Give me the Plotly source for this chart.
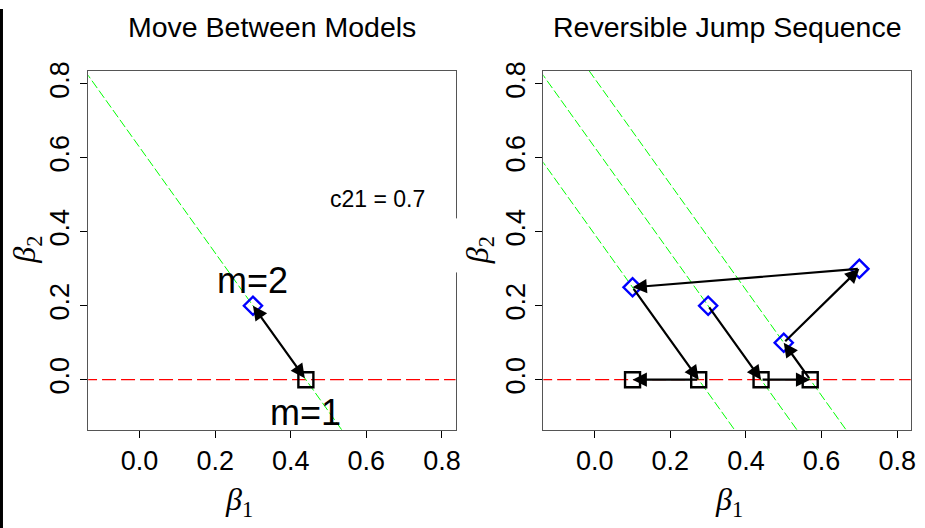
import plotly.graph_objects as go

W, H = 925, 528

# ---- data ----
c21 = 0.7
tick_vals = [0.0, 0.2, 0.4, 0.6, 0.8]
tick_text = ["0.0", "0.2", "0.4", "0.6", "0.8"]
axis_range = [-0.136, 0.836]

# left panel: one move between models
left_sq_x = [0.44]
left_sq_y = [0.0]
left_dm_x = [0.30]
left_dm_y = [0.20]
left_line_c = [0.44]

# right panel: reversible jump sequence
right_sq_x = [0.10, 0.275, 0.44, 0.57]
right_sq_y = [0.0, 0.0, 0.0, 0.0]
right_dm_x = [0.10, 0.30, 0.50, 0.70]
right_dm_y = [0.25, 0.20, 0.10, 0.30]
right_line_c = [0.275, 0.44, 0.57]
# arrows: (from_x, from_y, to_x, to_y)
right_arrows = [
    (0.10, 0.25, 0.275, 0.0),
    (0.275, 0.0, 0.10, 0.0),
    (0.30, 0.20, 0.44, 0.0),
    (0.44, 0.0, 0.57, 0.0),
    (0.57, 0.0, 0.50, 0.10),
    (0.50, 0.10, 0.70, 0.30),
    (0.70, 0.30, 0.10, 0.25),
]
left_arrows = [(0.44, 0.0, 0.30, 0.20)]

FONT = "Liberation Sans, Arial, Helvetica, sans-serif"
GREEN = "#00FF00"

def px_x(p):
    return p / W

def px_y(p):
    return 1 - p / H

fig = go.Figure()

def add_panel(xa, ya, line_c, sq_x, sq_y, dm_x, dm_y):
    # red dashed zero line
    fig.add_trace(go.Scatter(x=[-0.2, 1.0], y=[0, 0], mode="lines",
                             line=dict(color="#FF0000", width=1.2, dash="14px,5px"),
                             xaxis=xa, yaxis=ya, showlegend=False, hoverinfo="skip"))
    for c in line_c:
        xs = [-0.2, 1.0]
        ys = [(c - x) / c21 for x in xs]
        fig.add_trace(go.Scatter(x=xs, y=ys, mode="lines",
                                 line=dict(color=GREEN, width=1, dash="9px,3px"),
                                 xaxis=xa, yaxis=ya, showlegend=False, hoverinfo="skip"))
    fig.add_trace(go.Scatter(x=sq_x, y=sq_y, mode="markers",
                             marker=dict(symbol="square-open", size=15, color="black",
                                         line=dict(width=2.4, color="black")),
                             xaxis=xa, yaxis=ya, showlegend=False, cliponaxis=False))
    fig.add_trace(go.Scatter(x=dm_x, y=dm_y, mode="markers",
                             marker=dict(symbol="diamond-open", size=14, color="#0000FF",
                                         line=dict(width=2.4, color="#0000FF")),
                             xaxis=xa, yaxis=ya, showlegend=False, cliponaxis=False))

add_panel("x", "y", left_line_c, left_sq_x, left_sq_y, left_dm_x, left_dm_y)
add_panel("x2", "y2", right_line_c, right_sq_x, right_sq_y, right_dm_x, right_dm_y)

annotations = []
for (x0, y0, x1, y1) in left_arrows:
    annotations.append(dict(x=x1, y=y1, ax=x0, ay=y0, xref="x", yref="y", axref="x", ayref="y",
                            showarrow=True, arrowhead=2, arrowsize=1.3, arrowwidth=2.2,
                            arrowcolor="black", arrowside="end+start", text="",
                            standoff=0, startstandoff=0))
for (x0, y0, x1, y1) in right_arrows:
    annotations.append(dict(x=x1, y=y1, ax=x0, ay=y0, xref="x2", yref="y2", axref="x2", ayref="y2",
                            showarrow=True, arrowhead=2, arrowsize=1.3, arrowwidth=2.2,
                            arrowcolor="black", text="", standoff=0))

def label(x, y, xref, yref, text, size, family=FONT, angle=0):
    return dict(x=x, y=y, xref=xref, yref=yref, text=text, showarrow=False,
                xanchor="center", yanchor="middle", textangle=angle,
                font=dict(family=family, size=size, color="black"))

# text labels
annotations += [
    label(0.30, 0.268, "x", "y", "m=2", 36),
    label(0.44, -0.088, "x", "y", "m=1", 36),
    label(0.63, 0.49, "x", "y", "c21 = 0.7", 23),
]

# titles
annotations += [
    label(px_x(273.4), px_y(18), "paper", "paper", "Move Between Models", 28.5),
    label(px_x(731), px_y(18), "paper", "paper", "Reversible Jump Sequence", 28.5),
]

# axis titles
BFONT = "Liberation Serif, DejaVu Serif, serif"
for cx in [240, 733]:
    annotations.append(label(px_x(cx), px_y(501), "paper", "paper",
                             "<i>β</i><sub>1</sub>", 32, BFONT))
for cx in [27, 482]:
    annotations.append(label(px_x(cx), px_y(245), "paper", "paper",
                             "<i>β</i><sub>2</sub>", 32, BFONT, -90))

axis_common = dict(range=axis_range, showgrid=False, zeroline=False,
                   showline=True, mirror=True, linecolor="#555555", linewidth=1,
                   ticks="outside", ticklen=7, tickcolor="black", tickwidth=1,
                   tickvals=tick_vals, ticktext=tick_text,
                   tickfont=dict(family=FONT, size=27, color="black"))

yd = [px_y(428.3), px_y(62.7)]
fig.update_layout(
    width=W, height=H, margin=dict(l=0, r=0, t=0, b=0),
    paper_bgcolor="white", plot_bgcolor="white",
    xaxis=dict(domain=[px_x(88.7), px_x(458)], anchor="y", **axis_common),
    yaxis=dict(domain=yd, anchor="x", tickangle=-90, **axis_common),
    xaxis2=dict(domain=[px_x(546.3), px_x(915.7)], anchor="y2", **axis_common),
    yaxis2=dict(domain=yd, anchor="x2", tickangle=-90, **axis_common),
    annotations=annotations,
    shapes=[
        dict(type="rect", xref="paper", yref="paper", x0=0, x1=px_x(3), y0=0, y1=1,
             fillcolor="black", line=dict(width=0), layer="above"),
        dict(type="rect", xref="paper", yref="paper", x0=px_x(455), x1=px_x(462),
             y0=px_y(268), y1=px_y(213), fillcolor="white", line=dict(width=0), layer="above"),
    ],
    showlegend=False,
)

fig.write_html("out.html")
